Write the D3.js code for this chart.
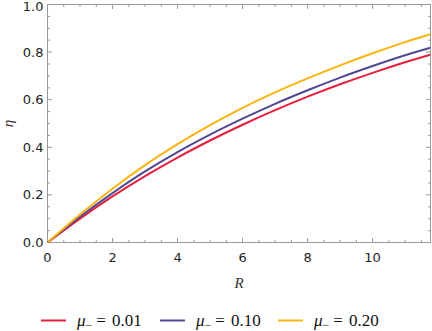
<!DOCTYPE html>
<html><head><meta charset="utf-8">
<script src="https://cdn.jsdelivr.net/npm/d3@7"></script>
<style>body{margin:0;background:#fff}svg{display:block}</style>
</head><body>
<svg id="c" width="432" height="331"></svg>
<script>
const R = [0, 1, 2, 3, 4, 5, 6, 7, 8, 9, 10, 11, 11.78];
const eta001 = [0, 0.1005, 0.1935, 0.279, 0.357, 0.4285, 0.4948, 0.5561, 0.6127, 0.6649, 0.7129, 0.7571, 0.7891];
const eta010 = [0, 0.108, 0.2074, 0.2985, 0.380, 0.4534, 0.5205, 0.5828, 0.6397, 0.6928, 0.7414, 0.7866, 0.818];
const eta020 = [0, 0.1176, 0.226, 0.3248, 0.413, 0.4928, 0.5656, 0.6306, 0.6893, 0.744, 0.7949, 0.8419, 0.875];
const seriesNames = ["0.01", "0.10", "0.20"];
const colors = ["#e5203d", "#4d4a92", "#fbb40f"];
const xTicks = [0, 2, 4, 6, 8, 10];
const yTicks = [0, 0.2, 0.4, 0.6, 0.8, 1.0];

const svg = d3.select("#c");
const L = 47.5, Rt = 430.5, T = 4.5, B = 242.5;
const x = d3.scaleLinear().domain([0, 11.78]).range([L, Rt]);
const y = d3.scaleLinear().domain([0, 1]).range([B, T]);
const frame = "#9a9a9a";

const g = svg.append("g");
const xMinor = d3.range(0, 11.78, 0.5);
const yMinor = d3.range(0, 1.0001, 0.05);
function tickLen(v, step){ return Math.abs(v/step - Math.round(v/step)) < 1e-6 ? 4.5 : 2.5; }
xMinor.forEach(v => {
  const len = tickLen(v, 2);
  g.append("line").attr("x1", x(v)).attr("x2", x(v)).attr("y1", B).attr("y2", B - len).attr("stroke", frame);
  g.append("line").attr("x1", x(v)).attr("x2", x(v)).attr("y1", T).attr("y2", T + len).attr("stroke", frame);
});
yMinor.forEach(v => {
  const len = tickLen(v, 0.2);
  g.append("line").attr("x1", L).attr("x2", L + len).attr("y1", y(v)).attr("y2", y(v)).attr("stroke", frame);
  g.append("line").attr("x1", Rt).attr("x2", Rt - len).attr("y1", y(v)).attr("y2", y(v)).attr("stroke", frame);
});
g.append("rect").attr("x", L).attr("y", T).attr("width", Rt - L).attr("height", B - T)
  .attr("fill", "none").attr("stroke", frame);

const font = "'DejaVu Sans', sans-serif";
xTicks.forEach(v => {
  svg.append("text").attr("x", x(v)).attr("y", B + 19).attr("text-anchor", "middle")
    .attr("font-family", font).attr("font-size", 13).attr("fill", "#222").text(d3.format("d")(v));
});
yTicks.forEach(v => {
  svg.append("text").attr("x", L - 4).attr("y", Math.max(y(v) + 4.5, 11)).attr("text-anchor", "end")
    .attr("font-family", font).attr("font-size", 13).attr("fill", "#222").text(d3.format(".1f")(v));
});

const data = [eta001, eta010, eta020];
const line = d3.line().x((d, i) => x(R[i])).y(d => y(d)).curve(d3.curveMonotoneX);
svg.append("clipPath").attr("id", "cp").append("rect")
  .attr("x", L).attr("y", T).attr("width", Rt - L).attr("height", B - T);
data.forEach((s, k) => {
  svg.append("path").attr("d", line(s)).attr("fill", "none").attr("stroke", colors[k])
    .attr("stroke-width", 2).attr("clip-path", "url(#cp)");
});

const serif = "'Liberation Serif', 'DejaVu Serif', serif";
svg.append("text").attr("transform", `translate(13,${(T + B) / 2}) rotate(-90)`)
  .attr("text-anchor", "middle").attr("font-family", serif).attr("font-style", "italic")
  .attr("font-size", 15).attr("fill", "#333").text("η");
svg.append("text").attr("x", (L + Rt) / 2).attr("y", 288).attr("text-anchor", "middle")
  .attr("font-family", serif).attr("font-style", "italic").attr("font-size", 15).attr("fill", "#333").text("R");

const legX = [41, 160, 278];
seriesNames.forEach((n, k) => {
  svg.append("line").attr("x1", legX[k]).attr("x2", legX[k] + 25).attr("y1", 320.5).attr("y2", 320.5)
    .attr("stroke", colors[k]).attr("stroke-width", 2);
  const t = svg.append("text").attr("x", legX[k] + 36).attr("y", 325.5).attr("font-family", serif)
    .attr("font-size", 17).attr("fill", "#111");
  t.append("tspan").attr("font-style", "italic").text("μ");
  t.append("tspan").attr("font-size", 12).attr("dy", 3).text("−");
  t.append("tspan").attr("dy", -3).attr("dx", 4).text("=");
  t.append("tspan").attr("dx", 6).text(n);
});
</script>
</body></html>
